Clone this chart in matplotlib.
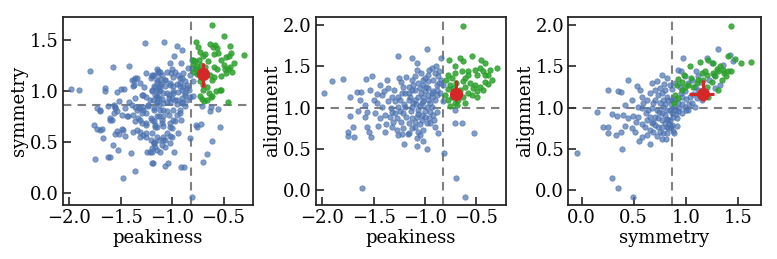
import numpy as np
import matplotlib
matplotlib.use("Agg")
import matplotlib.pyplot as plt

# cut values (dashed lines)
peak_cut = -0.82
sym_cut = 0.866
align_cut = 1.0

# ---- panel 1: peakiness vs symmetry ----
p1_blue = [
    (-1.98, 1.02), (-1.91, 1.01), (-1.80, 1.20), (-1.575, 1.23), (-1.42, 1.24), (-1.26, 1.47),
    (-1.08, 1.48), (-0.955, 1.44), (-0.905, 1.40), (-0.98, 1.34), (-0.915, 1.27), (-0.85, 1.22),
    (-1.0, 1.21), (-1.01, 1.175), (-1.65, 1.03), (-1.65, 1.00), (-1.535, 0.99), (-1.50, 1.02),
    (-1.47, 1.02), (-1.37, 1.11), (-1.37, 1.06), (-1.34, 1.13), (-1.25, 1.18), (-1.20, 1.15),
    (-1.14, 1.20), (-1.27, 1.04), (-1.17, 1.04), (-1.13, 1.04), (-1.13, 1.00), (-1.11, 1.07),
    (-1.29, 0.96), (-1.25, 0.94), (-1.22, 0.91), (-1.52, 0.905),
    (-1.733, 0.83), (-1.70, 0.807), (-1.555, 0.846), (-1.54, 0.80), (-1.57, 0.78), (-1.44, 0.755),
    (-1.60, 0.715), (-1.585, 0.71), (-1.76, 0.666), (-1.73, 0.63), (-1.685, 0.63), (-1.67, 0.535),
    (-1.54, 0.61), (-1.555, 0.58), (-1.52, 0.58), (-1.49, 0.63), (-1.475, 0.62), (-1.46, 0.56),
    (-1.58, 0.47), (-1.53, 0.42), (-1.40, 0.39), (-1.75, 0.33), (-1.62, 0.35), (-1.60, 0.35),
    (-1.36, 0.213), (-1.475, 0.145),
    (-1.377, 0.60), (-1.31, 0.595), (-1.28, 0.57), (-1.25, 0.545), (-1.21, 0.52), (-1.18, 0.49),
    (-1.20, 0.44), (-1.15, 0.42), (-1.24, 0.40), (-1.22, 0.40), (-1.19, 0.29),
    (-1.32, 0.846), (-1.28, 0.815), (-1.25, 0.78), (-1.21, 0.73), (-1.33, 0.73), (-1.38, 0.765),
    (-1.36, 0.70), (-1.295, 0.68), (-1.25, 0.665), (-1.18, 0.70), (-1.15, 0.65),
    (-1.15, 0.895), (-1.085, 0.88), (-1.02, 0.886), (-0.955, 0.873), (-0.905, 0.895), (-1.18, 0.83),
    (-1.12, 0.815), (-1.05, 0.80), (-0.99, 0.815), (-0.92, 0.78), (-1.13, 0.75), (-1.10, 0.715),
    (-1.165, 0.665), (-1.085, 0.655), (-1.02, 0.68), (-0.97, 0.70), (-1.0, 0.634), (-0.915, 0.71),
    (-1.085, 0.55), (-1.07, 0.52), (-1.02, 0.56), (-1.13, 0.52), (-1.10, 0.47), (-1.165, 0.45),
    (-1.18, 0.50), (-1.20, 0.40), (-0.98, 0.40), (-1.20, 0.29), (-1.07, 0.265), (-1.045, 0.29),
    (-0.91, 0.256), (-0.88, 0.256), (-0.83, 0.535), (-0.77, 0.666), (-0.76, 0.65), (-0.72, 0.673),
    (-0.636, 0.80), (-0.555, 0.82), (-0.705, 0.853), (-0.62, 0.846), (-0.53, 0.65), (-0.613, 0.505),
    (-0.656, 0.378), (-0.695, 0.30), (-0.81, -0.04),
    (-1.15, 1.21), (-1.14, 1.175), (-1.175, 1.16), (-1.10, 1.16), (-1.07, 1.11), (-0.87, 1.10),
    (-0.857, 1.06), (-0.89, 1.04), (-0.92, 1.08), (-0.955, 1.07), (-0.99, 1.045), (-1.02, 1.08),
    (-1.065, 1.045), (-1.12, 1.06), (-1.15, 1.09), (-1.18, 1.045), (-1.20, 1.01), (-1.15, 1.01),
    (-1.085, 0.98), (-1.035, 0.96), (-0.99, 0.98), (-0.94, 0.99), (-0.905, 1.01), (-0.87, 0.98),
    (-0.83, 0.94), (-0.857, 0.91), (-0.905, 0.93), (-0.955, 0.91), (-1.0, 0.93), (-1.05, 0.895),
    (-1.10, 0.92), (-1.15, 0.94), (-1.02, 1.27), (-0.97, 1.19), (-0.94, 1.16), (-0.90, 1.125),
    (-1.12, 1.115), (-1.21, 1.125), (-0.84, 1.01), (-0.83, 1.16),
    (-1.36, 0.84), (-1.325, 0.83), (-1.42, 0.89), (-1.565, 0.86), (-1.19, 0.91), (-1.15, 0.886),
    (-1.13, 0.93), (-1.23, 0.864), (-1.28, 0.846), (-1.165, 0.96),
    (-0.92, 0.815), (-0.873, 0.848), (-0.955, 0.765), (-0.987, 0.716), (-1.02, 0.65), (-1.05, 0.585),
    (-1.10, 0.684), (-1.15, 0.75), (-1.18, 0.815), (-1.13, 0.864), (-1.085, 0.815), (-1.035, 0.765),
    (-0.905, 0.88), (-0.97, 0.91), (-1.035, 0.93), (-1.085, 0.75), (-1.20, 0.716), (-1.25, 0.684),
    (-1.31, 0.716), (-1.295, 0.78), (-1.23, 0.85), (-1.345, 0.815), (-1.39, 0.864), (-1.36, 0.93),
    (-1.28, 0.96), (-1.20, 0.995), (-1.15, 0.946), (-1.12, 1.01), (-1.05, 0.98), (-0.987, 0.995),
    (-0.92, 1.044), (-0.873, 0.962), (-0.857, 1.03), (-1.02, 1.06), (-1.07, 1.11), (-1.15, 1.11),
    (-1.20, 1.16), (-1.12, 1.19), (-1.05, 1.19), (-0.987, 1.14), (-0.92, 1.126), (-0.89, 1.175),
    (-1.31, 1.077), (-1.38, 1.044), (-1.39, 1.11), (-1.36, 1.126), (-1.70, 0.618), (-1.62, 0.848),
    (-1.70, 0.815), (-1.60, 0.733), (-1.49, 0.765), (-1.555, 0.83), (-1.46, 0.83), (-1.425, 0.75),
    (-1.345, 0.618), (-1.31, 0.55), (-1.25, 0.585), (-1.165, 0.65), (-1.15, 0.55), (-1.085, 0.52),
    (-1.07, 0.454), (-1.12, 0.405), (-1.02, 0.487), (-1.0, 0.55), (-0.94, 0.585), (-1.18, 0.487),
    (-1.20, 0.585), (-0.81, 1.30), (-0.81, 1.22), (-0.80, 1.10), (-0.80, 0.95),
]
p1_green = [
    (-0.61, 1.647), (-0.494, 1.54), (-0.77, 1.483), (-0.63, 1.46), (-0.58, 1.45), (-0.565, 1.42),
    (-0.744, 1.43), (-0.435, 1.44), (-0.296, 1.35), (-0.43, 1.37), (-0.45, 1.34), (-0.475, 1.33),
    (-0.68, 1.365), (-0.59, 1.36), (-0.70, 1.34), (-0.727, 1.38), (-0.80, 1.305), (-0.776, 1.29),
    (-0.735, 1.30), (-0.80, 1.264), (-0.76, 1.247), (-0.50, 1.257), (-0.46, 1.215), (-0.42, 1.19),
    (-0.44, 1.234), (-0.487, 1.215), (-0.59, 1.234), (-0.565, 1.21), (-0.63, 1.16), (-0.59, 1.14),
    (-0.613, 1.11), (-0.79, 1.19), (-0.776, 1.215), (-0.76, 1.17), (-0.727, 1.10), (-0.695, 1.06),
    (-0.70, 1.01), (-0.66, 1.036), (-0.646, 0.98), (-0.613, 0.95), (-0.57, 0.994), (-0.526, 1.01),
    (-0.727, 0.945), (-0.71, 0.92), (-0.69, 0.896), (-0.66, 0.91), (-0.62, 0.94), (-0.46, 0.886),
    (-0.60, 1.43), (-0.55, 1.37), (-0.52, 1.30), (-0.40, 1.27), (-0.48, 1.18), (-0.52, 1.15),
    (-0.68, 1.23), (-0.72, 1.25), (-0.65, 1.29), (-0.53, 1.005), (-0.75, 1.21),
]

# ---- panel 2: peakiness vs alignment ----
p2_blue = [
    (-1.98, 1.176), (-1.91, 1.32), (-1.795, 1.345), (-1.73, 1.135), (-1.73, 0.90), (-1.70, 0.76),
    (-1.75, 0.71), (-1.75, 0.66), (-1.69, 0.64), (-1.66, 1.19), (-1.62, 1.19), (-1.63, 1.09),
    (-1.585, 1.035), (-1.585, 0.885), (-1.56, 0.76), (-1.545, 0.70), (-1.53, 0.65), (-1.61, 0.024),
    (-1.575, 1.345), (-1.52, 1.38), (-1.535, 1.215), (-1.50, 1.095), (-1.49, 0.93), (-1.46, 0.78),
    (-1.44, 1.28), (-1.42, 1.155), (-1.37, 1.34), (-1.36, 1.235), (-1.36, 1.075), (-1.38, 0.80),
    (-1.385, 0.71), (-1.325, 0.95), (-1.34, 0.89), (-1.26, 1.63), (-1.25, 1.36), (-1.23, 1.305),
    (-1.24, 1.095), (-1.21, 0.93), (-1.23, 0.83), (-1.22, 0.68), (-1.20, 0.56), (-1.17, 0.68),
    (-1.13, 1.60), (-1.075, 1.54), (-1.08, 1.46), (-1.10, 1.38), (-1.13, 1.33), (-1.16, 1.25),
    (-1.146, 1.135), (-1.114, 1.055), (-1.065, 0.97), (-1.03, 0.91), (-1.08, 0.89), (-1.13, 0.87),
    (-1.10, 0.77), (-1.05, 0.80), (-1.08, 0.63), (-1.016, 0.59), (-0.98, 0.50), (-0.984, 1.71),
    (-0.935, 1.48), (-0.97, 1.40), (-1.016, 1.28), (-0.97, 1.24), (-0.92, 1.34), (-0.87, 1.38),
    (-0.84, 1.60), (-0.886, 1.27), (-0.854, 1.175), (-0.90, 1.095), (-0.97, 1.095), (-1.016, 1.135),
    (-1.065, 1.135), (-1.03, 1.055), (-0.984, 1.014), (-0.935, 1.014), (-0.886, 0.95), (-0.92, 0.91),
    (-0.95, 0.81), (-0.90, 0.77), (-0.877, 0.69), (-0.81, 0.45), (-0.71, 0.82), (-0.64, 0.81),
    (-0.71, 0.97), (-0.70, 0.153), (-0.61, -0.077), (-0.526, 0.69), (-0.84, 1.34), (-0.82, 1.075),
    (-0.82, 1.28),
    (-1.195, 1.175), (-1.16, 1.095), (-1.13, 1.014), (-1.195, 1.014), (-1.26, 1.014), (-1.29, 0.93),
    (-1.276, 0.87), (-1.31, 0.83), (-1.18, 0.89), (-1.16, 0.81), (-1.13, 0.75), (-1.065, 0.71),
    (-1.016, 0.73), (-0.984, 0.81), (-1.0, 0.89), (-0.95, 0.95), (-1.0, 1.196), (-1.045, 1.236),
    (-1.10, 1.216), (-1.065, 1.30), (-1.016, 1.34), (-0.97, 1.32), (-0.90, 1.42), (-0.935, 1.175),
    (-0.886, 1.155), (-0.97, 1.155), (-1.016, 1.075), (-1.097, 1.095), (-1.13, 1.216), (-1.16, 1.176),
    (-1.227, 1.176), (-1.26, 1.135), (-1.325, 1.135), (-1.29, 1.075), (-1.42, 1.014), (-1.47, 1.055),
    (-1.39, 0.91), (-1.44, 0.87), (-1.325, 0.77), (-1.276, 0.73), (-1.21, 0.75), (-1.16, 0.69),
    (-1.26, 0.67), (-1.08, 0.54), (-1.05, 0.67),
    (-1.05, 1.02), (-0.95, 1.06), (-0.92, 1.20), (-0.99, 1.25), (-1.04, 1.18), (-1.09, 1.05),
    (-1.14, 0.96), (-1.07, 0.92), (-1.00, 0.96), (-0.93, 1.13), (-0.88, 1.22), (-0.86, 1.30),
    (-1.12, 1.28), (-1.21, 1.25), (-1.30, 1.21), (-1.33, 1.00), (-1.24, 0.96), (-1.20, 1.05),
    (-1.10, 0.83), (-1.03, 0.85), (-0.96, 0.88), (-0.91, 0.85), (-1.56, 0.95), (-1.65, 0.96),
    (-1.47, 1.16), (-1.40, 1.20), (-1.18, 1.37), (-1.04, 1.42), (-0.96, 1.46), (-0.89, 1.50),
    (-0.86, 1.44), (-1.00, 1.36),
]
p2_green = [
    (-0.627, 1.99), (-0.77, 1.58), (-0.71, 1.50), (-0.66, 1.60), (-0.627, 1.56), (-0.545, 1.63),
    (-0.45, 1.58), (-0.416, 1.54), (-0.464, 1.48), (-0.295, 1.48), (-0.513, 1.46), (-0.578, 1.44),
    (-0.64, 1.44), (-0.71, 1.42), (-0.773, 1.40), (-0.497, 1.395), (-0.43, 1.44), (-0.416, 1.40),
    (-0.79, 1.34), (-0.74, 1.36), (-0.70, 1.30), (-0.627, 1.32), (-0.61, 1.36), (-0.56, 1.30),
    (-0.513, 1.28), (-0.464, 1.25), (-0.43, 1.216), (-0.383, 1.29), (-0.344, 1.34), (-0.757, 1.28),
    (-0.724, 1.236), (-0.773, 1.224), (-0.66, 1.216), (-0.61, 1.25), (-0.578, 1.18), (-0.53, 1.236),
    (-0.627, 1.135), (-0.675, 1.095), (-0.71, 1.055), (-0.61, 1.055), (-0.545, 1.155), (-0.497, 1.135),
    (-0.78, 1.095), (-0.80, 1.155), (-0.74, 1.135), (-0.497, 1.196), (-0.416, 1.316), (-0.383, 1.40),
    (-0.367, 1.46), (-0.69, 1.03), (-0.76, 1.02), (-0.58, 1.39),
]

# ---- panel 3: symmetry vs alignment ----
p3_blue = [
    (-0.045, 0.45), (0.144, 0.945), (0.25, 1.216), (0.208, 0.76), (0.256, 0.76), (0.256, 0.69),
    (0.29, 0.92), (0.295, 0.146), (0.327, 0.67), (0.35, 0.024), (0.378, 0.70), (0.39, 0.50),
    (0.346, 1.196), (0.378, 1.19), (0.417, 1.034), (0.40, 0.91), (0.449, 1.337), (0.497, -0.077),
    (0.48, 1.087), (0.497, 0.90), (0.48, 0.75), (0.51, 0.71), (0.53, 1.265), (0.56, 1.216),
    (0.577, 1.135), (0.593, 1.054), (0.545, 0.885), (0.55, 0.59), (0.583, 0.65), (0.625, 0.67),
    (0.61, 0.77), (0.625, 0.85), (0.657, 1.176), (0.673, 1.297), (0.72, 1.325), (0.657, 0.557),
    (0.689, 0.71), (0.705, 0.79), (0.737, 0.87), (0.72, 0.974), (0.753, 1.054), (0.77, 1.176),
    (0.753, 1.236), (0.77, 1.40), (0.817, 1.36), (0.77, 0.62), (0.785, 0.69), (0.817, 0.77),
    (0.833, 0.85), (0.80, 0.91), (0.785, 1.014), (0.833, 1.095), (0.89, 0.69), (0.865, 1.224),
    (0.923, 1.46), (0.977, 1.60), (0.955, 1.44), (0.994, 1.38), (1.026, 1.30), (1.058, 1.337),
    (1.09, 1.256), (1.12, 1.38), (1.20, 1.60), (1.25, 1.54), (1.314, 1.71), (1.426, 1.64),
    (1.458, 1.56), (0.96, 1.135), (0.93, 1.054), (0.897, 0.974), (0.88, 0.89), (0.913, 0.87),
    (0.96, 0.93), (0.994, 1.014), (1.026, 0.974), (1.058, 1.054), (1.09, 1.014), (1.105, 1.115),
    (1.154, 1.095), (1.186, 1.176), (1.28, 1.236), (1.33, 1.28), (1.04, 1.135), (0.994, 1.196),
    (0.946, 1.256), (0.897, 1.297), (0.85, 1.276), (0.865, 1.095), (0.89, 1.014), (0.93, 0.955),
    (0.85, 0.974), (0.817, 0.974), (0.737, 0.77), (0.689, 0.83), (0.657, 0.89), (0.64, 0.974),
    (0.577, 0.994), (0.545, 1.014), (0.625, 1.095), (0.705, 1.095), (0.737, 1.155), (0.705, 1.216),
    (0.80, 1.216), (0.817, 1.135), (0.785, 1.095), (0.77, 0.93), (0.705, 0.89), (0.673, 0.81),
    (0.77, 0.85), (0.80, 0.81), (0.833, 0.75), (0.865, 0.79), (0.85, 0.85), (0.753, 0.71),
    (0.77, 0.77), (0.817, 0.69),
    (0.84, 0.80), (0.86, 0.76), (0.82, 0.86), (0.87, 0.94), (0.90, 1.10), (0.95, 1.18),
    (1.00, 1.10), (1.03, 1.05), (1.07, 1.16), (1.12, 1.22), (1.00, 0.97), (0.94, 1.00),
    (0.91, 0.92), (0.86, 1.04), (0.80, 1.05), (0.74, 0.95), (0.68, 1.00), (0.62, 0.93),
    (0.58, 0.80), (0.52, 0.83), (0.45, 0.88), (0.42, 0.78), (0.34, 0.90), (0.66, 0.73),
    (0.72, 0.66), (0.81, 0.62), (0.88, 0.72), (0.92, 0.78), (1.15, 1.31), (1.22, 1.34),
    (1.27, 1.40), (1.36, 1.52), (1.10, 1.45), (0.96, 1.05), (0.79, 1.29), (0.69, 1.06),
]
p3_green = [
    (1.436, 1.99), (1.04, 1.51), (1.138, 1.55), (1.21, 1.58), (1.266, 1.54), (1.327, 1.51),
    (1.41, 1.63), (1.474, 1.59), (1.53, 1.54), (1.625, 1.556), (1.362, 1.46), (1.41, 1.44),
    (1.436, 1.447), (1.314, 1.44), (1.266, 1.42), (1.186, 1.45), (1.12, 1.337), (0.93, 1.345),
    (0.96, 1.317), (0.913, 1.276), (0.96, 1.216), (0.897, 1.155), (0.93, 1.115), (0.89, 1.054),
    (1.026, 1.276), (1.074, 1.25), (1.105, 1.297), (1.20, 1.25), (1.21, 1.135), (1.17, 1.337),
    (1.25, 1.317), (1.28, 1.38), (1.346, 1.337), (1.39, 1.38), (1.314, 1.216), (1.20, 1.40),
    (0.994, 1.256), (1.16, 1.42), (1.30, 1.47), (1.05, 1.36), (0.98, 1.40), (1.37, 1.42),
]

# mean of the selected sample, with lower / upper errors
sel_peak = -0.70
sel_peak_err = (0.01, 0.01)
sel_sym = 1.165
sel_sym_err = (0.13, 0.11)
sel_align = 1.16
sel_align_err = (0.08, 0.18)

blue = "#4C72B0"
green = "#2ca02c"
red = "#d62728"

plt.rcParams["font.family"] = "DejaVu Serif"
plt.rcParams["font.size"] = 13

fig = plt.figure(figsize=(7.77, 2.59), dpi=100)
lefts = [0.0807, 0.4063, 0.7314]
widths = [0.2453, 0.2449, 0.2476]
axes = [fig.add_axes([l, 0.2085, w, 0.7262]) for l, w in zip(lefts, widths)]

panels = [
    (p1_blue, p1_green, "peakiness", "symmetry", peak_cut, sym_cut,
     sel_peak, sel_sym, sel_peak_err, sel_sym_err),
    (p2_blue, p2_green, "peakiness", "alignment", peak_cut, align_cut,
     sel_peak, sel_align, sel_peak_err, sel_align_err),
    (p3_blue, p3_green, "symmetry", "alignment", sym_cut, align_cut,
     sel_sym, sel_align, sel_sym_err, sel_align_err),
]

for ax, (bl, gr, xl, yl, xc, yc, mx, my, ex, ey) in zip(axes, panels):
    bl = np.array(bl)
    gr = np.array(gr)
    ax.scatter(bl[:, 0], bl[:, 1], s=15, color=blue, alpha=0.7, linewidths=0.6, zorder=2)
    ax.scatter(gr[:, 0], gr[:, 1], s=15, color=green, alpha=0.85, linewidths=0.6, zorder=3)
    ax.axvline(xc, color="gray", ls="--", lw=1.5, dashes=(4, 3), zorder=1)
    ax.axhline(yc, color="gray", ls="--", lw=1.5, dashes=(4, 3), zorder=1)
    ax.errorbar([mx], [my], xerr=[[ex[0]], [ex[1]]], yerr=[[ey[0]], [ey[1]]],
                fmt="o", color=red, ms=8.5, elinewidth=2.2, capsize=0, zorder=5)
    ax.set_xlabel(xl, labelpad=1)
    ax.set_ylabel(yl, labelpad=1)
    ax.tick_params(direction="in", length=6, width=1.2, color="#262626", pad=3)
    for sp in ax.spines.values():
        sp.set_linewidth(1.3)
        sp.set_color("#262626")

axes[0].set_xlim(-2.065, -0.21)
axes[0].set_ylim(-0.12, 1.726)
axes[0].set_xticks([-2.0, -1.5, -1.0, -0.5])
axes[0].set_yticks([0.0, 0.5, 1.0, 1.5])
axes[1].set_xlim(-2.065, -0.21)
axes[1].set_ylim(-0.18, 2.10)
axes[1].set_xticks([-2.0, -1.5, -1.0, -0.5])
axes[1].set_yticks([0.0, 0.5, 1.0, 1.5, 2.0])
axes[2].set_xlim(-0.128, 1.72)
axes[2].set_ylim(-0.18, 2.10)
axes[2].set_xticks([0.0, 0.5, 1.0, 1.5])
axes[2].set_yticks([0.0, 0.5, 1.0, 1.5, 2.0])

fig.savefig("out.png", dpi=100)
